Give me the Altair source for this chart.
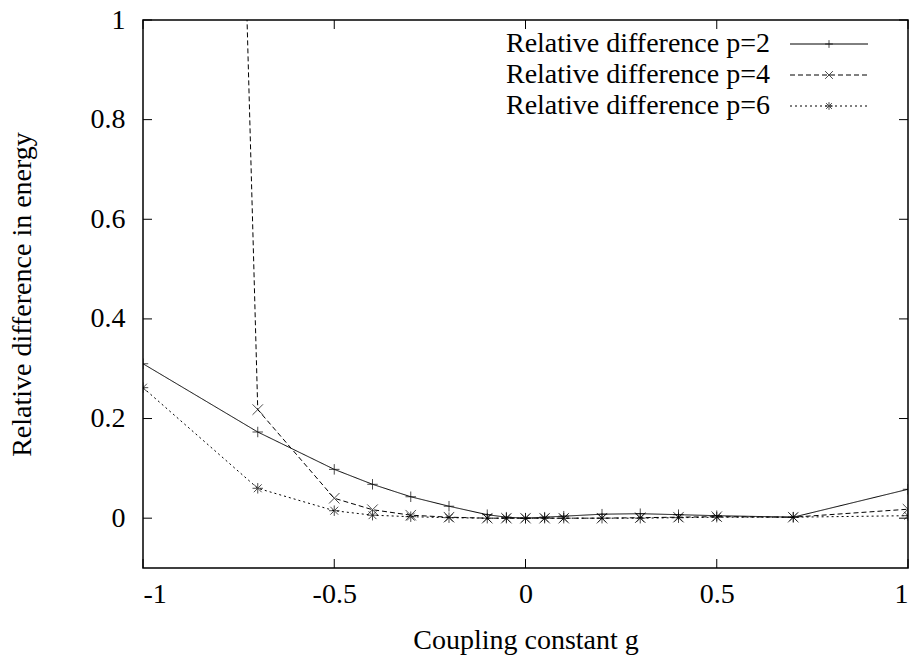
import altair as alt
import pandas as pd

g = [-1, -0.7, -0.5, -0.4, -0.3, -0.2, -0.1, -0.05, 0, 0.05, 0.1, 0.2, 0.3, 0.4, 0.5, 0.7, 1]
p2 = [0.310, 0.173, 0.098, 0.068, 0.043, 0.024, 0.007, 0.002, 0.0, 0.002, 0.004, 0.008, 0.009, 0.007, 0.005, 0.002, 0.058]
p4 = [8.6, 0.218, 0.040, 0.017, 0.006, 0.002, 0.0, 0.0, 0.0, 0.0, 0.0, 0.0, 0.001, 0.002, 0.003, 0.002, 0.018]
p6 = [0.262, 0.060, 0.015, 0.006, 0.003, 0.001, 0.0, 0.0, 0.0, 0.0, 0.0, 0.0, 0.0, 0.001, 0.002, 0.002, 0.005]
series_names = ["Relative difference p=2", "Relative difference p=4", "Relative difference p=6"]
x_ticks = [-1, -0.5, 0, 0.5, 1]
y_ticks = [0, 0.2, 0.4, 0.6, 0.8, 1]

FONT = "Liberation Serif"
FS = 28
W, H = 765, 548

rows = []
for name, vals in zip(series_names, [p2, p4, p6]):
    for gi, v in zip(g, vals):
        rows.append({"g": gi, "v": v, "s": name})
df = pd.DataFrame(rows)

plus = "M-1,0L1,0M0,-1L0,1"
cross = "M-1,-1L1,1M-1,1L1,-1"
star = "M-1,0L1,0M0,-1L0,1M-0.75,-0.75L0.75,0.75M-0.75,0.75L0.75,-0.75"
shapes = [plus, cross, star]
dashes = [[5, 3], [5, 3], [2, 3]]
dashes[0] = [1, 0]

xs = alt.Scale(domain=[-1, 1], nice=False, zero=False)
ys = alt.Scale(domain=[-0.1, 1], nice=False, zero=False)

x_enc = alt.X("g:Q", scale=xs, axis=alt.Axis(values=x_ticks, title="Coupling constant g",
                                                 labelExpr="'' + datum.value",
                                                 labelPadding=12, titlePadding=18))
y_enc = alt.Y("v:Q", scale=ys, axis=alt.Axis(values=y_ticks, title="Relative difference in energy",
                                                 labelExpr="'' + datum.value",
                                                 labelPadding=18, titlePadding=54))

base = alt.Chart(df)
lines = base.mark_line(clip=True, color="black", strokeWidth=1).encode(
    x=x_enc, y=y_enc,
    strokeDash=alt.StrokeDash("s:N", scale=alt.Scale(domain=series_names, range=dashes), legend=None),
    detail="s:N",
)
points = base.mark_point(clip=True, color="black", filled=False, size=110, strokeWidth=1).encode(
    x=alt.X("g:Q", scale=xs), y=alt.Y("v:Q", scale=ys),
    shape=alt.Shape("s:N", scale=alt.Scale(domain=series_names, range=shapes), legend=None),
)

tick_len = 9
xt = pd.DataFrame({"g": x_ticks})
yt = pd.DataFrame({"v": y_ticks})
xt_bot = alt.Chart(xt).mark_rule(color="black", strokeWidth=1).encode(
    x=alt.X("g:Q", scale=xs), y=alt.value(H), y2=alt.value(H - tick_len))
xt_top = alt.Chart(xt).mark_rule(color="black", strokeWidth=1).encode(
    x=alt.X("g:Q", scale=xs), y=alt.value(0), y2=alt.value(tick_len))
yt_left = alt.Chart(yt).mark_rule(color="black", strokeWidth=1).encode(
    y=alt.Y("v:Q", scale=ys), x=alt.value(0), x2=alt.value(tick_len))
yt_right = alt.Chart(yt).mark_rule(color="black", strokeWidth=1).encode(
    y=alt.Y("v:Q", scale=ys), x=alt.value(W), x2=alt.value(W - tick_len))

legend_layers = []
row_y = [24, 55, 86]
for name, shp, dsh, yy in zip(series_names, shapes, dashes, row_y):
    ld = pd.DataFrame({"s": [name]})
    legend_layers.append(alt.Chart(ld).mark_text(align="right", baseline="middle", font=FONT,
                                                  fontSize=FS, color="black").encode(
        text="s:N", x=alt.value(627), y=alt.value(yy)))
    legend_layers.append(alt.Chart(ld).mark_rule(color="black", strokeWidth=1, strokeDash=dsh).encode(
        x=alt.value(647), x2=alt.value(725), y=alt.value(yy)))
    legend_layers.append(alt.Chart(ld).mark_point(shape=shp, color="black", filled=False, size=60,
                                                   strokeWidth=1).encode(
        x=alt.value(686), y=alt.value(yy)))

chart = alt.layer(lines, points, xt_bot, xt_top, yt_left, yt_right, *legend_layers).properties(
    width=W, height=H,
    background="white",
    autosize=alt.AutoSizeParams(type="none"),
    padding={"left": 143, "top": 20, "right": 8, "bottom": 91},
).configure_view(stroke="black", strokeWidth=1.5).configure_axis(
    domain=False, ticks=False, grid=False,
    labelFont=FONT, labelFontSize=FS, labelColor="black",
    titleFont=FONT, titleFontSize=FS, titleColor="black", titleFontWeight="normal",
)

chart.save("out.html", embed_options={"renderer": "svg", "actions": False})
